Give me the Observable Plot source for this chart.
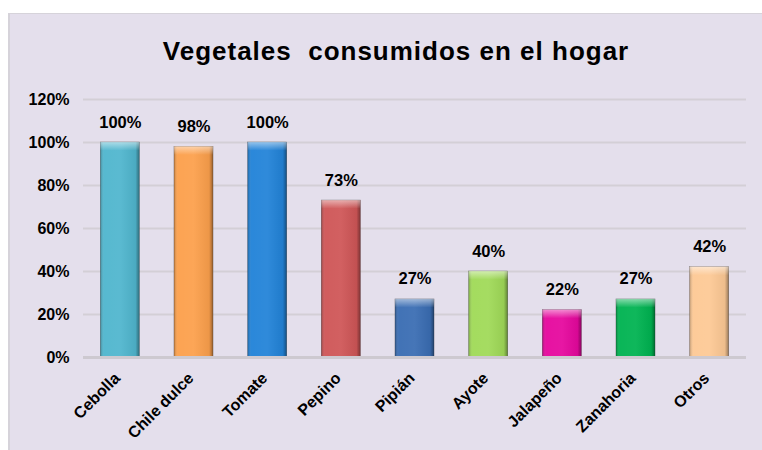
<!DOCTYPE html>
<html>
<head>
<meta charset="utf-8">
<script src="https://cdn.jsdelivr.net/npm/d3@7"></script>
<script src="https://cdn.jsdelivr.net/npm/@observablehq/plot@0.6"></script>
<style>
  html, body { margin: 0; padding: 0; background: #ffffff; }
  #panel {
    position: absolute; left: 8px; top: 13px; width: 754px; height: 437px;
    background: #E4DFEC; border-left: 2px solid #d6d3da; border-top: 1px solid #d6d3da;
    box-sizing: border-box; font-family: "Liberation Sans", Arial, sans-serif;
  }
  #title {
    position: absolute; left: 0; top: 0; width: 100%; height: 60px; line-height: 74px; margin: 0; text-align: center;
    font-size: 26px; font-weight: bold; color: #000; letter-spacing: 1px; white-space: pre;
    padding-left: 20px; box-sizing: border-box;
  }
  #chart { position: absolute; left: -3px; top: 59px; }
  #chart svg { display: block; }
</style>
</head>
<body>
<div id="panel">
  <div id="title">Vegetales  consumidos en el hogar</div>
  <div id="chart"></div>
</div>
<script>
const categories = ["Cebolla", "Chile dulce", "Tomate", "Pepino", "Pipián", "Ayote", "Jalapeño", "Zanahoria", "Otros"];
const values = [1.00, 0.98, 1.00, 0.73, 0.27, 0.40, 0.22, 0.27, 0.42];
const colors = ["#50B6CE", "#FCA04C", "#2283D8", "#CF5657", "#3A6DB3", "#A0DA58", "#E6089E", "#00B351", "#FDC995"];
const yTicks = [0, 0.2, 0.4, 0.6, 0.8, 1.0, 1.2];

const data = categories.map((c, i) => ({ cat: c, value: values[i] }));
const pct = d3.format(".0%");

const plot = Plot.plot({
  width: 755,
  height: 378,
  marginTop: 26,
  marginBottom: 94,
  marginLeft: 76,
  marginRight: 16,
  style: { background: "transparent", fontFamily: "'Liberation Sans', Arial, sans-serif", overflow: "visible" },
  x: { domain: categories, paddingInner: 0.47, paddingOuter: 0.235, round: false, label: null, axis: null },
  y: { domain: [0, 1.2], label: null, axis: null },
  color: { domain: categories, range: colors },
  marks: [
    Plot.gridY(yTicks, { stroke: "#d3cfd6", strokeOpacity: 1, strokeWidth: 2 }),
    Plot.text(yTicks, {
      y: d => d, frameAnchor: "left", dx: -14, textAnchor: "end",
      text: d => pct(d), fontSize: 16, fontWeight: "bold", fill: "#000"
    }),
    Plot.text(categories, {
      x: d => d, frameAnchor: "bottom", rotate: -45, textAnchor: "end", lineAnchor: "middle",
      dx: -3, dy: 18, text: d => d, fontSize: 16, fontWeight: "bold", fill: "#000"
    }),
    Plot.barY(data, { x: "cat", y: "value", fill: "cat", stroke: "#3a3a3a", strokeWidth: 0.6, strokeOpacity: 0.5 }),
    Plot.barY(data, { x: "cat", y: "value", fill: "url(#shine)" }),
    Plot.barY(data, { x: "cat", y1: d => d.value, y2: d => d.value - 0.04, fill: "url(#topbevel)" }),
    Plot.ruleY([0], { stroke: "#cdc9d0", strokeWidth: 3 }),
    Plot.text(data, {
      x: "cat", y: "value", text: d => pct(d.value),
      lineAnchor: "bottom", dy: -15, fontSize: 16.5, fontWeight: "bold", fill: "#000"
    })
  ]
});

const ns = "http://www.w3.org/2000/svg";
const defs = document.createElementNS(ns, "defs");
defs.innerHTML = `
  <linearGradient id="shine" x1="0" x2="1" y1="0" y2="0">
    <stop offset="0" stop-color="#000" stop-opacity="0.25"/>
    <stop offset="0.1" stop-color="#fff" stop-opacity="0.04"/>
    <stop offset="0.5" stop-color="#fff" stop-opacity="0.06"/>
    <stop offset="0.9" stop-color="#000" stop-opacity="0.06"/>
    <stop offset="1" stop-color="#000" stop-opacity="0.4"/>
  </linearGradient>
  <linearGradient id="topbevel" x1="0" x2="0" y1="0" y2="1">
    <stop offset="0" stop-color="#fff" stop-opacity="0.5"/>
    <stop offset="1" stop-color="#fff" stop-opacity="0"/>
  </linearGradient>`;
plot.insertBefore(defs, plot.firstChild);
document.getElementById("chart").appendChild(plot);
</script>
</body>
</html>
